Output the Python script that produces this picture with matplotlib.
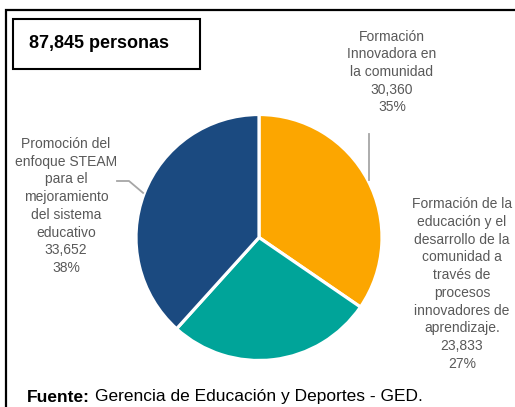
import numpy as np
import matplotlib
matplotlib.use("Agg")
import matplotlib.pyplot as plt
from matplotlib.patches import Rectangle

plt.rcParams['font.family'] = ['Liberation Sans', 'DejaVu Sans']

# === DONNEES
categorias = [
    "Formación\nInnovadora en\nla comunidad",
    "Formación de la\neducación y el\ndesarrollo de la\ncomunidad a\ntravés de\nprocesos\ninnovadores de\naprendizaje.",
    "Promoción del\nenfoque STEAM\npara el\nmejoramiento\ndel sistema\neducativo",
]
valores = [30360, 23833, 33652]
colores = ["#FCA600", "#00A499", "#1B4A80"]
titulo = "87,845 personas"
fuente = "Gerencia de Educación y Deportes - GED."

# === MISE EN PAGE (pixels)
W, H = 515, 407
cx, cy, radio = 259, 237.5, 123
label_pos = [(392, 72), (462, 284), (66, 206)]
leader = [True, False, True]
gris = "#595959"

def py(y):
    return H - y

fig = plt.figure(figsize=(W / 100, H / 100), dpi=100)
ax = fig.add_axes([0, 0, 1, 1])
ax.set_xlim(0, W)
ax.set_ylim(0, H)
ax.axis("off")

# cadre extérieur
ax.add_patch(Rectangle((6, py(430)), 540, 420, fill=False, lw=1.6, ec="black"))
# boîte titre
ax.add_patch(Rectangle((13, py(69)), 187, 50, fill=False, lw=1.5, ec="black"))
ax.text(99, py(44), titulo, ha="center", va="center", fontsize=13,
        fontweight="bold", color="black")

wedges, _ = ax.pie(valores, colors=colores, startangle=90, counterclock=False,
                   center=(cx, py(cy)), radius=radio,
                   wedgeprops=dict(edgecolor="white", linewidth=2.3))
ax.set_xlim(0, W)
ax.set_ylim(0, H)
ax.set_aspect("equal")

total = sum(valores)
for w, cat, v, (lx, ly), ld in zip(wedges, categorias, valores, label_pos, leader):
    pct = round(v / total * 100)
    txt = f"{cat}\n{v:,}\n{pct}%"
    ax.text(lx, py(ly), txt, ha="center", va="center", fontsize=10,
            color=gris, linespacing=1.34)
    if ld:
        ang = np.deg2rad((w.theta1 + w.theta2) / 2)
        x0 = cx + radio * 1.01 * np.cos(ang)
        y0 = py(cy) + radio * 1.01 * np.sin(ang)
        if np.cos(ang) > 0:
            ax.plot([x0, x0], [y0, py(134)], color="#A6A6A6", lw=1.3)
        else:
            ax.plot([x0, 129, 117], [y0, py(181), py(181)], color="#A6A6A6", lw=1.3)

t1 = ax.text(27, py(397), "Fuente:", ha="left", va="center", fontsize=12.5,
             fontweight="bold", color="black")
fig.canvas.draw()
x_fin = t1.get_window_extent().x1
ax.text(x_fin + 5, py(397), fuente, ha="left", va="center", fontsize=12.5,
        color="black")

fig.savefig("out.png", dpi=100)
